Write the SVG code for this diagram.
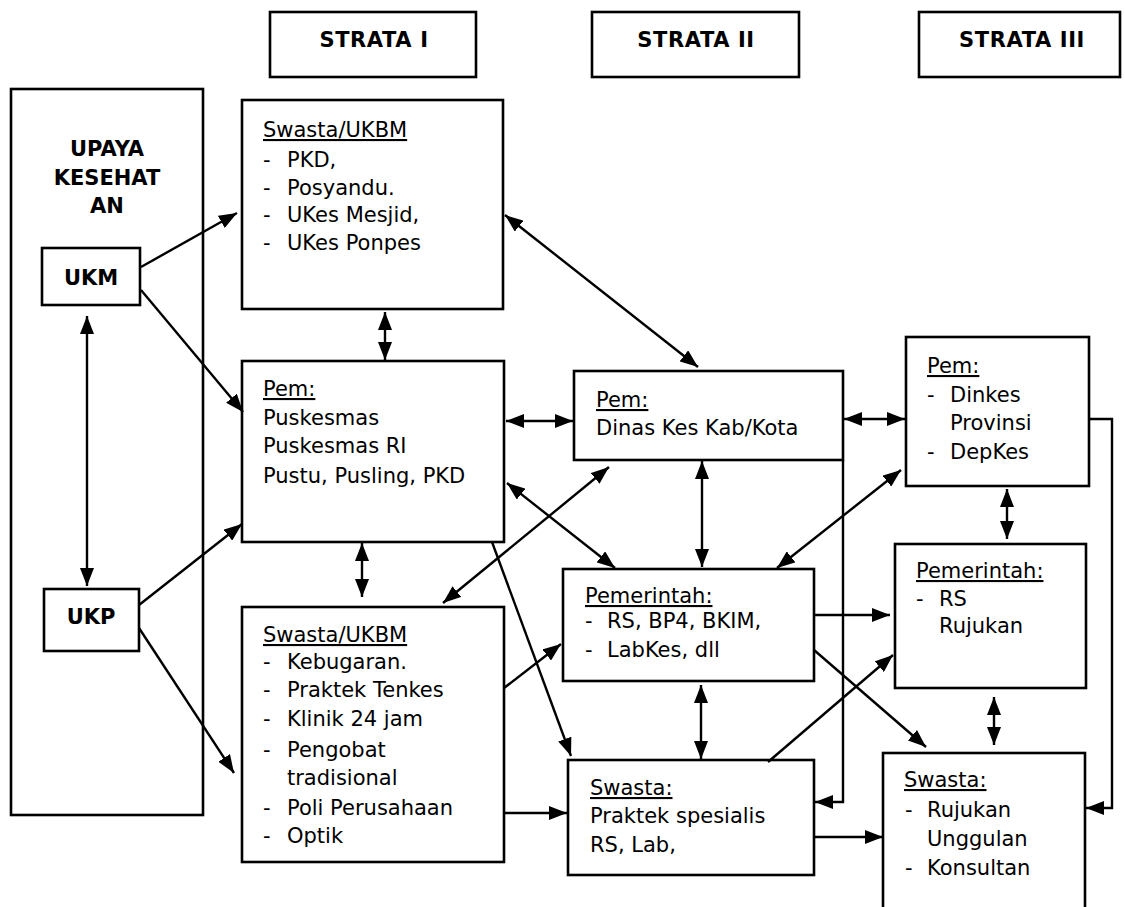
<svg xmlns="http://www.w3.org/2000/svg" width="1125" height="907" viewBox="0 0 1125 907">
<style>
.box{fill:#fff;stroke:#000;stroke-width:2.6}
.t{font-family:"DejaVu Sans",Verdana,sans-serif;font-size:21px;fill:#000}
.b{font-family:"DejaVu Sans",Verdana,sans-serif;font-size:21px;font-weight:bold;fill:#000;text-anchor:middle}
.h{font-family:"DejaVu Sans",Verdana,sans-serif;font-size:21px;font-weight:bold;letter-spacing:0.6px;fill:#000;text-anchor:middle}
.u{text-decoration:underline}
.c{fill:none;stroke:#000;stroke-width:2.4}
.e{marker-end:url(#ah)}
.s{marker-start:url(#ah)}
</style>
<defs>
<marker id="ah" markerUnits="userSpaceOnUse" markerWidth="18" markerHeight="14" refX="18" refY="7" orient="auto-start-reverse">
<path d="M0,0 L18,7 L0,14 Z" fill="#000"/>
</marker>
</defs>
<rect width="1125" height="907" fill="#fff"/>
<g id="strata1"><rect class="box" x="270" y="12" width="206" height="65"/><text class="h" x="374" y="47">STRATA I</text></g>
<g id="strata2"><rect class="box" x="592" y="12" width="207" height="65"/><text class="h" x="696" y="47">STRATA II</text></g>
<g id="strata3"><rect class="box" x="919" y="12" width="201" height="65"/><text class="h" x="1022" y="47">STRATA III</text></g>
<g id="upaya"><rect class="box" x="11" y="89" width="192" height="726"/>
<text class="b" x="107" y="156">UPAYA</text><text class="b" x="107" y="185">KESEHAT</text><text class="b" x="107" y="213">AN</text></g>
<g id="ukm"><rect class="box" x="42" y="248" width="98" height="57"/><text class="b" x="91" y="285">UKM</text></g>
<g id="ukp"><rect class="box" x="44" y="589" width="95" height="62"/><text class="b" x="91" y="624">UKP</text></g>
<g id="s1-swasta-top"><rect class="box" x="242" y="100" width="261" height="209"/>
<text class="t u" x="263" y="137">Swasta/UKBM</text>
<text class="t" x="263" y="167">-</text><text class="t" x="287" y="167">PKD,</text>
<text class="t" x="263" y="195">-</text><text class="t" x="287" y="195">Posyandu.</text>
<text class="t" x="263" y="222">-</text><text class="t" x="287" y="222">UKes Mesjid,</text>
<text class="t" x="263" y="250">-</text><text class="t" x="287" y="250">UKes Ponpes</text></g>
<g id="s1-pem"><rect class="box" x="242" y="361" width="262" height="181"/>
<text class="t u" x="263" y="396">Pem:</text>
<text class="t" x="263" y="425">Puskesmas</text>
<text class="t" x="263" y="453">Puskesmas RI</text>
<text class="t" x="263" y="483">Pustu, Pusling, PKD</text></g>
<g id="s1-swasta-bottom"><rect class="box" x="242" y="607" width="262" height="255"/>
<text class="t u" x="263" y="642">Swasta/UKBM</text>
<text class="t" x="263" y="669">-</text><text class="t" x="287" y="669">Kebugaran.</text>
<text class="t" x="263" y="697">-</text><text class="t" x="287" y="697">Praktek Tenkes</text>
<text class="t" x="263" y="726">-</text><text class="t" x="287" y="726">Klinik 24 jam</text>
<text class="t" x="263" y="757">-</text><text class="t" x="287" y="757">Pengobat</text>
<text class="t" x="287" y="785">tradisional</text>
<text class="t" x="263" y="815">-</text><text class="t" x="287" y="815">Poli Perusahaan</text>
<text class="t" x="263" y="843">-</text><text class="t" x="287" y="843">Optik</text></g>
<g id="s2-dinas"><rect class="box" x="574" y="371" width="269" height="89"/>
<text class="t u" x="596" y="407">Pem:</text>
<text class="t" x="596" y="435">Dinas Kes Kab/Kota</text></g>
<g id="s2-pemerintah"><rect class="box" x="563" y="569" width="251" height="112"/>
<text class="t u" x="585" y="603">Pemerintah:</text>
<text class="t" x="585" y="628">-</text><text class="t" x="607" y="628">RS, BP4, BKIM,</text>
<text class="t" x="585" y="657">-</text><text class="t" x="607" y="657">LabKes, dll</text></g>
<g id="s2-swasta"><rect class="box" x="568" y="760" width="246" height="115"/>
<text class="t u" x="590" y="795">Swasta:</text>
<text class="t" x="590" y="823">Praktek spesialis</text>
<text class="t" x="590" y="852">RS, Lab,</text></g>
<g id="s3-pem"><rect class="box" x="906" y="337" width="183" height="149"/>
<text class="t u" x="927" y="373">Pem:</text>
<text class="t" x="927" y="402">-</text><text class="t" x="950" y="402">Dinkes</text>
<text class="t" x="950" y="430">Provinsi</text>
<text class="t" x="927" y="459">-</text><text class="t" x="950" y="459">DepKes</text></g>
<g id="s3-pemerintah"><rect class="box" x="895" y="544" width="191" height="144"/>
<text class="t u" x="916" y="578">Pemerintah:</text>
<text class="t" x="916" y="606">-</text><text class="t" x="939" y="606">RS</text>
<text class="t" x="939" y="633">Rujukan</text></g>
<g id="s3-swasta"><rect class="box" x="883" y="753" width="202" height="160"/>
<text class="t u" x="904" y="787">Swasta:</text>
<text class="t" x="905" y="817">-</text><text class="t" x="927" y="817">Rujukan</text>
<text class="t" x="927" y="846">Unggulan</text>
<text class="t" x="905" y="875">-</text><text class="t" x="927" y="875">Konsultan</text></g>
<g id="connectors">
<path class="c e" d="M141,267 L237,213"/>
<path class="c e" d="M141,290 L243,412"/>
<path class="c e" d="M139,605 L242,524"/>
<path class="c e" d="M139,628 L234,773"/>
<path class="c s e" d="M87,316 L87,586"/>
<path class="c s e" d="M385,312 L385,360"/>
<path class="c s e" d="M362,543 L362,597"/>
<path class="c s e" d="M505,215 L698,367"/>
<path class="c s e" d="M506,421 L573,421"/>
<path class="c s e" d="M507,483 L615,568"/>
<path class="c s e" d="M443,603 L609,467"/>
<path class="c e" d="M492,542 L571,756"/>
<path class="c e" d="M504,688 L561,644"/>
<path class="c e" d="M504,813 L567,813"/>
<path class="c s e" d="M702,461 L702,567"/>
<path class="c s e" d="M701,685 L701,759"/>
<path class="c s e" d="M844,419 L905,419"/>
<path class="c e" d="M843,460 L843,802 L815,802"/>
<path class="c s e" d="M777,568 L901,470"/>
<path class="c s e" d="M1007,489 L1007,539"/>
<path class="c e" d="M1089,419 L1112,419 L1112,808 L1086,808"/>
<path class="c e" d="M814,615 L890,615"/>
<path class="c e" d="M768,762 L893,655"/>
<path class="c e" d="M814,650 L926,747"/>
<path class="c e" d="M814,837 L883,837"/>
<path class="c s e" d="M994,697 L994,745"/>
</g>
</svg>
